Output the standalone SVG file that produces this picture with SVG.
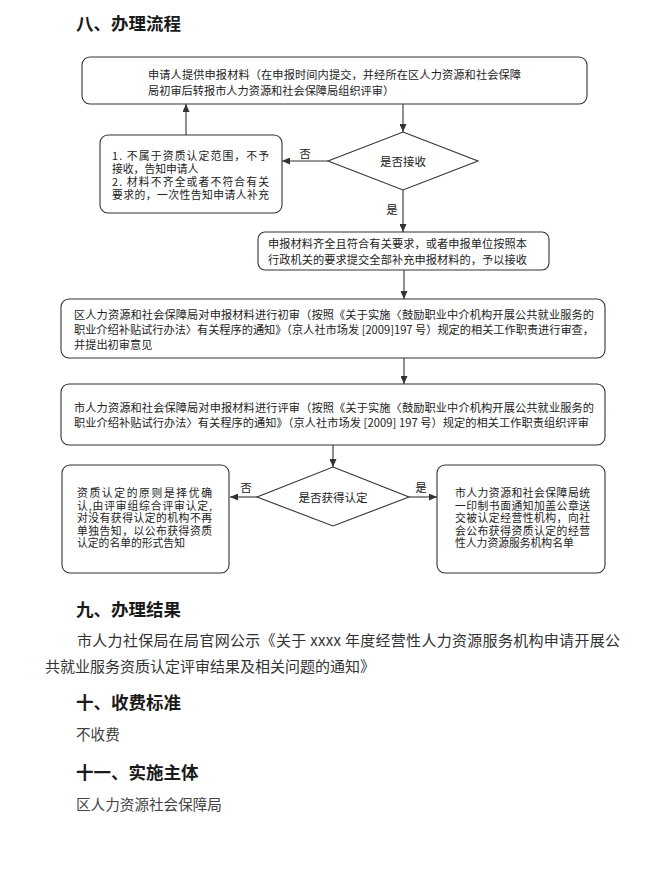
<svg xmlns="http://www.w3.org/2000/svg" width="656" height="888" viewBox="0 0 656 888">
<style>
  text { font-family: "Noto Sans CJK SC", "Liberation Sans", sans-serif; fill: #222; }
  .t { font-size: 11.2px; dominant-baseline: central; }
  .b { font-size: 10.8px; dominant-baseline: central; }
  .lbl { font-size: 11.5px; dominant-baseline: central; }
  .h { font-size: 17.5px; font-weight: bold; dominant-baseline: central; fill: #1a1a1a; }
  .p { font-size: 15px; dominant-baseline: central; fill: #333; }
  .s { font-size: 14.6px; dominant-baseline: central; fill: #444; }
  .box { fill: #fff; stroke: #333; stroke-width: 1.1; }
  .edge { fill: none; stroke: #333; stroke-width: 1.1; }
</style>
<defs>
  <marker id="arr" markerUnits="userSpaceOnUse" markerWidth="9" markerHeight="7" refX="8" refY="3.5" orient="auto">
    <path d="M0,0 L8,3.5 L0,7 z" fill="#333"/>
  </marker>
</defs>
<rect width="656" height="888" fill="#fff"/>

<text class="h" x="76" y="22">八、办理流程</text>

<g id="connectors">
  <path class="edge" d="M186,135 L186,104" marker-end="url(#arr)"/>
  <path class="edge" d="M403,104 L403,132" marker-end="url(#arr)"/>
  <path class="edge" d="M328,161 L282,161" marker-end="url(#arr)"/>
  <path class="edge" d="M403,190 L403,232" marker-end="url(#arr)"/>
  <path class="edge" d="M404,270 L404,299" marker-end="url(#arr)"/>
  <path class="edge" d="M404,358 L404,384" marker-end="url(#arr)"/>
  <path class="edge" d="M333,445 L333,467" marker-end="url(#arr)"/>
  <path class="edge" d="M257,497 L230,497" marker-end="url(#arr)"/>
  <path class="edge" d="M409,497 L437,497" marker-end="url(#arr)"/>
  <text class="lbl" x="305" y="153" text-anchor="middle">否</text>
  <text class="lbl" x="392" y="209" text-anchor="middle">是</text>
  <text class="lbl" x="246" y="487" text-anchor="middle">否</text>
  <text class="lbl" x="421" y="487" text-anchor="middle">是</text>
</g>

<g id="submit">
  <rect class="box" x="82" y="57" width="505" height="47" rx="8"/>
  <text class="t" x="148" y="74" textLength="373" lengthAdjust="spacing">申请人提供申报材料（在申报时间内提交，并经所在区人力资源和社会保障</text>
  <text class="t" x="148" y="89.5">局初审后转报市人力资源和社会保障局组织评审）</text>
</g>

<g id="reject">
  <rect class="box" x="100" y="135" width="182" height="78" rx="8"/>
  <text class="b" x="112" y="154.5" textLength="157" lengthAdjust="spacing">1. 不属于资质认定范围，不予</text>
  <text class="b" x="112" y="167.5">接收，告知申请人</text>
  <text class="b" x="112" y="181" textLength="157" lengthAdjust="spacing">2. 材料不齐全或者不符合有关</text>
  <text class="b" x="112" y="194" textLength="157" lengthAdjust="spacing">要求的，一次性告知申请人补充</text>
</g>

<g id="accept-decision">
  <polygon class="box" points="403,132 478,161 403,190 328,161"/>
  <text class="t" x="403" y="161" text-anchor="middle" style="font-size:11.5px">是否接收</text>
</g>

<g id="accepted">
  <rect class="box" x="258" y="232" width="291" height="38" rx="7"/>
  <text class="t" x="268" y="243" textLength="259" lengthAdjust="spacing">申报材料齐全且符合有关要求，或者申报单位按照本</text>
  <text class="t" x="268" y="259" textLength="259" lengthAdjust="spacing">行政机关的要求提交全部补充申报材料的，予以接收</text>
</g>

<g id="district-review">
  <rect class="box" x="61" y="299" width="544" height="59" rx="8"/>
  <text class="t" x="74" y="314" textLength="520" lengthAdjust="spacing">区人力资源和社会保障局对申报材料进行初审（按照《关于实施〈鼓励职业中介机构开展公共就业服务的</text>
  <text class="t" x="74" y="329" textLength="520" lengthAdjust="spacing">职业介绍补贴试行办法〉有关程序的通知》（京人社市场发 [2009]197 号）规定的相关工作职责进行审查，</text>
  <text class="t" x="74" y="344">并提出初审意见</text>
</g>

<g id="city-review">
  <rect class="box" x="61" y="384" width="544" height="61" rx="8"/>
  <text class="t" x="74" y="407" textLength="520" lengthAdjust="spacing">市人力资源和社会保障局对申报材料进行评审（按照《关于实施〈鼓励职业中介机构开展公共就业服务的</text>
  <text class="t" x="74" y="422" textLength="515" lengthAdjust="spacing">职业介绍补贴试行办法〉有关程序的通知》（京人社市场发 [2009] 197 号）规定的相关工作职责组织评审</text>
</g>

<g id="cert-decision">
  <polygon class="box" points="333,467 409,497 333,526 257,497"/>
  <text class="t" x="333" y="497" text-anchor="middle" style="font-size:11.5px">是否获得认定</text>
</g>

<g id="not-certified">
  <rect class="box" x="62" y="465" width="167" height="108" rx="8"/>
  <text class="b" x="77" y="492" textLength="135" lengthAdjust="spacing">资质认定的原则是择优确</text>
  <text class="b" x="77" y="504.5" textLength="135" lengthAdjust="spacing">认,由评审组综合评审认定,</text>
  <text class="b" x="77" y="517" textLength="135" lengthAdjust="spacing">对没有获得认定的机构不再</text>
  <text class="b" x="77" y="529.5" textLength="135" lengthAdjust="spacing">单独告知，以公布获得资质</text>
  <text class="b" x="77" y="542">认定的名单的形式告知</text>
</g>

<g id="certified">
  <rect class="box" x="437" y="465" width="168" height="108" rx="8"/>
  <text class="b" x="455" y="492" textLength="135" lengthAdjust="spacing">市人力资源和社会保障局统</text>
  <text class="b" x="455" y="504.5" textLength="135" lengthAdjust="spacing">一印制书面通知加盖公章送</text>
  <text class="b" x="455" y="517" textLength="135" lengthAdjust="spacing">交被认定经营性机构，向社</text>
  <text class="b" x="455" y="529.5" textLength="135" lengthAdjust="spacing">会公布获得资质认定的经营</text>
  <text class="b" x="455" y="542">性人力资源服务机构名单</text>
</g>

<text class="h" x="76" y="608">九、办理结果</text>
<text class="p" x="77" y="639" textLength="543" lengthAdjust="spacing">市人力社保局在局官网公示《关于 xxxx 年度经营性人力资源服务机构申请开展公</text>
<text class="p" x="45" y="665">共就业服务资质认定评审结果及相关问题的通知》</text>
<text class="h" x="76" y="701">十、收费标准</text>
<text class="s" x="76" y="733">不收费</text>
<text class="h" x="76" y="771">十一、实施主体</text>
<text class="s" x="76" y="803">区人力资源社会保障局</text>
</svg>
